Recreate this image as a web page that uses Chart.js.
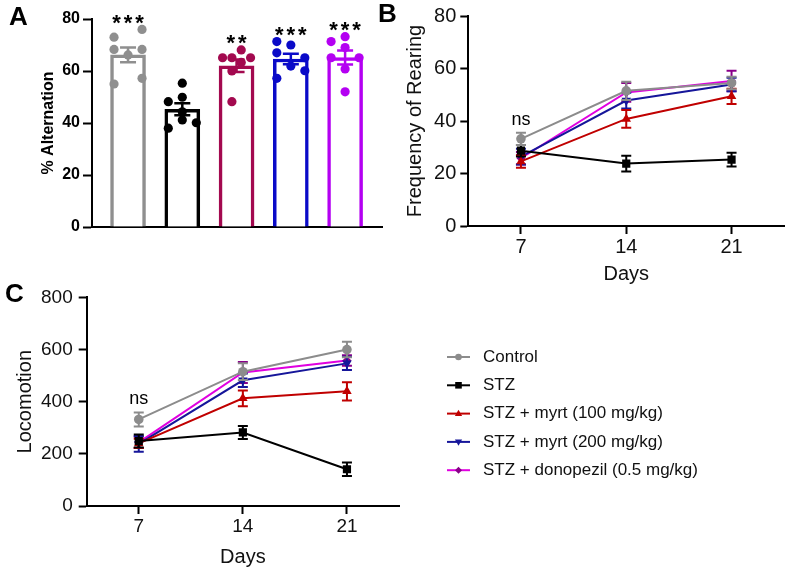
<!DOCTYPE html>
<html>
<head>
<meta charset="utf-8">
<script src="https://cdn.jsdelivr.net/npm/chart.js@4.4.1/dist/chart.umd.min.js"></script>
<style>
  body { margin: 0; background: #fff; width: 790px; height: 572px; position: relative; overflow: hidden; font-family: "Liberation Sans", Arial, sans-serif; }
  canvas { position: absolute; }
  .panel { position: absolute; font-weight: bold; font-size: 26px; line-height: 1; }
</style>
</head>
<body>
<canvas id="chartA" width="390" height="250" style="left:0;top:0"></canvas>
<canvas id="chartB" width="400" height="290" style="left:390px;top:0"></canvas>
<canvas id="chartC" width="790" height="292" style="left:0;top:280px"></canvas>
<div class="panel" style="left:9px;top:3px">A</div>
<div class="panel" style="left:378px;top:0px">B</div>
<div class="panel" style="left:5px;top:280px">C</div>

<script>
// -------------------- DATA --------------------
const groups = ['Control', 'STZ', 'STZ + myrt (100 mg/kg)', 'STZ + myrt (200 mg/kg)', 'STZ + donopezil (0.5 mg/kg)'];

// A - % alternation (bar = mean, dots = animals)
const altMean = [66.2, 45.3, 62.0, 64.6, 65.2];
const altSem = [2.8, 2.3, 2.4, 2.0, 2.7];
const altStars = ['***', '', '**', '***', '***'];
const altControl = [73.0, 76.0, 68.3, 66.2, 68.3, 55.0, 57.2];
const altSTZ = [55.3, 49.9, 48.2, 44.3, 41.2, 40.1, 38.0];
const altMyrt100 = [68.1, 65.1, 65.1, 65.1, 63.3, 60.0, 48.2];
const altMyrt200 = [71.3, 70.0, 67.0, 65.1, 61.9, 60.1, 57.2];
const altDonepezil = [73.2, 71.3, 69.0, 65.1, 65.1, 60.8, 52.0];
// horizontal slot of each dot inside its bar (GraphPad scatter layout)
const slotControl = [-1.5, 1.5, -1.5, 0, 1.5, -1.5, 1.5];
const slotSTZ = [0, 0, -1.5, 0, 0, 1.5, -1.5];
const slotMyrt100 = [0.5, -1.5, -0.5, 1.5, 0.5, -0.5, -0.5];
const slotMyrt200 = [-1.5, 0, -1.5, 1.5, 0, 1.5, -1.5];
const slotDonepezil = [0, -1.5, 0, -1.5, 1.5, 0, 0];
const altTicks = [0, 20, 40, 60, 80];

// B / C - days
const dayTicks = [7, 14, 21];

// B - frequency of rearing
const rearControl = [33.2, 51.5, 54.5];
const rearSTZ = [28.7, 23.8, 25.3];
const rearMyrt100 = [24.6, 40.8, 49.4];
const rearMyrt200 = [26.4, 47.8, 53.9];
const rearDonepezil = [25.8, 50.9, 55.2];
const rearControlSem = [2.3, 3.5, 2.4];
const rearSTZSem = [2.2, 3.0, 2.6];
const rearMyrt100Sem = [2.4, 3.4, 2.9];
const rearMyrt200Sem = [3.0, 3.0, 2.6];
const rearDonepezilSem = [2.4, 3.6, 3.9];

// C - locomotion
const locoControl = [332, 515, 600];
const locoSTZ = [249, 282, 141];
const locoMyrt100 = [240, 413, 440];
const locoMyrt200 = [238, 482, 547];
const locoDonepezil = [244, 512, 558];
const locoControlSem = [27, 32, 30];
const locoSTZSem = [25, 25, 26];
const locoMyrt100Sem = [18, 30, 35];
const locoMyrt200Sem = [30, 26, 25];
const locoDonepezilSem = [22, 40, 20];

// -------------------- STYLE --------------------
const barColors = ['#8f8f8f', '#000000', '#a3094f', '#0a0ac8', '#b400f2'];
const lineColors = ['#8c8c8c', '#000000', '#c00000', '#16169a', '#e000e0'];
const markerColors = ['#8c8c8c', '#000000', '#c00000', '#16169a', '#8a008a'];
const markerStyles = ['circle', 'rect', 'triangle', 'triangleDown', 'diamond'];

Chart.defaults.font.family = "'Liberation Sans', Arial, sans-serif";
Chart.defaults.color = '#000';
Chart.defaults.animation = false;
Chart.defaults.events = [];
Chart.defaults.plugins.legend.display = false;
Chart.defaults.plugins.tooltip.enabled = false;

function drawMarker(ctx, style, x, y, r, color) {
    ctx.save();
    ctx.fillStyle = color;
    ctx.beginPath();
    if (style === 'circle') {
        ctx.arc(x, y, r, 0, Math.PI * 2);
    } else if (style === 'rect') {
        ctx.rect(x - r, y - r, 2 * r, 2 * r);
    } else if (style === 'triangle') {
        ctx.moveTo(x, y - r * 1.2);
        ctx.lineTo(x + r * 1.1, y + r * 0.75);
        ctx.lineTo(x - r * 1.1, y + r * 0.75);
    } else if (style === 'triangleDown') {
        ctx.moveTo(x, y + r * 1.2);
        ctx.lineTo(x + r * 1.1, y - r * 0.75);
        ctx.lineTo(x - r * 1.1, y - r * 0.75);
    } else {
        ctx.moveTo(x, y - r);
        ctx.lineTo(x + r, y);
        ctx.lineTo(x, y + r);
        ctx.lineTo(x - r, y);
    }
    ctx.closePath();
    ctx.fill();
    ctx.restore();
}

function axisBox(size, isY) {
    return isY ? (s) => { s.width = size; } : (s) => { s.height = size; };
}

// -------------------- PANEL A --------------------
const altDots = [altControl, altSTZ, altMyrt100, altMyrt200, altDonepezil];
const altSlots = [slotControl, slotSTZ, slotMyrt100, slotMyrt200, slotDonepezil];
const SLOT = 0.172;

const barExtras = {
    id: 'barExtras',
    afterDatasetsDraw(chart) {
        const { ctx, scales: { x, y } } = chart;
        ctx.save();
        altMean.forEach((m, i) => {
            const px = x.getPixelForValue(i + 1);
            const top = y.getPixelForValue(m + altSem[i]);
            const bot = y.getPixelForValue(m - altSem[i]);
            ctx.strokeStyle = barColors[i];
            ctx.lineWidth = 2.5;
            ctx.beginPath();
            ctx.moveTo(px, top); ctx.lineTo(px, bot);
            ctx.moveTo(px - 8, top); ctx.lineTo(px + 8, top);
            ctx.moveTo(px - 8, bot); ctx.lineTo(px + 8, bot);
            ctx.stroke();

            // significance stars above highest dot
            const stars = altStars[i];
            if (!stars) return;
            const cy = y.getPixelForValue(Math.max(...altDots[i])) - 12;
            ctx.fillStyle = '#000';
            ctx.font = "bold 22px 'Liberation Sans', Arial, sans-serif";
            ctx.textAlign = 'center';
            ctx.textBaseline = 'alphabetic';
            const step = 11.5;
            const x0 = px - (stars.length - 1) * step / 2;
            for (let k = 0; k < stars.length; k++) {
                ctx.fillText('*', x0 + k * step, cy + 12.5);
            }
        });
        ctx.restore();
    }
};

new Chart(document.getElementById('chartA'), {
    type: 'bar',
    data: {
        datasets: [
            {
                data: altMean.map((v, i) => ({ x: i + 1, y: v })),
                backgroundColor: '#fff',
                borderColor: barColors,
                borderWidth: 3.5,
                barThickness: 35,
                order: 2
            },
            ...altDots.map((vals, i) => ({
                type: 'scatter',
                data: vals.map((v, k) => ({ x: i + 1 + altSlots[i][k] * SLOT, y: v })),
                pointRadius: 4.6,
                pointBorderWidth: 0,
                pointBackgroundColor: barColors[i],
                order: 1
            }))
        ]
    },
    options: {
        responsive: false,
        devicePixelRatio: 1,
        layout: { padding: { left: 0, top: 19, right: 8, bottom: 0 } },
        scales: {
            x: {
                type: 'linear', min: 0.336, max: 5.68, offset: false,
                ticks: { display: false },
                grid: { display: true, drawOnChartArea: false, drawTicks: false, offset: false },
                border: { display: true, color: '#000', width: 2 },
                afterFit: axisBox(23, false)
            },
            y: {
                min: 0, max: 80,
                afterBuildTicks: (s) => { s.ticks = altTicks.map(v => ({ value: v })); },
                ticks: { font: { size: 16, weight: 'bold' }, padding: 3, color: '#000' },
                grid: { drawOnChartArea: false, drawTicks: true, tickLength: 9, tickWidth: 2, tickColor: '#000' },
                border: { display: true, color: '#000', width: 2 },
                title: { display: true, text: '% Alternation', font: { size: 16, weight: 'bold' }, padding: 39, color: '#000' },
                afterFit: axisBox(92, true)
            }
        }
    },
    plugins: [barExtras]
});

// -------------------- PANELS B & C --------------------
const errorBars = {
    id: 'errorBars',
    beforeDatasetDraw(chart, args) {
        const ds = chart.data.datasets[args.index];
        if (!ds.sem) return;
        const { ctx, scales: { x, y } } = chart;
        ctx.save();
        ctx.strokeStyle = ds.errorColor;
        ctx.lineWidth = 2;
        ds.data.forEach((p, i) => {
            const px = x.getPixelForValue(p.x);
            const top = y.getPixelForValue(p.y + ds.sem[i]);
            const bot = y.getPixelForValue(p.y - ds.sem[i]);
            ctx.beginPath();
            ctx.moveTo(px, top); ctx.lineTo(px, bot);
            ctx.moveTo(px - 5, top); ctx.lineTo(px + 5, top);
            ctx.moveTo(px - 5, bot); ctx.lineTo(px + 5, bot);
            ctx.stroke();
        });
        ctx.restore();
    }
};

const nsLabel = {
    id: 'nsLabel',
    afterDatasetsDraw(chart) {
        const ds = chart.data.datasets[0];
        const { ctx, scales: { x, y } } = chart;
        const px = x.getPixelForValue(ds.data[0].x);
        const py = y.getPixelForValue(ds.data[0].y + ds.sem[0]) - 13;
        ctx.save();
        ctx.fillStyle = '#000';
        ctx.font = "18px 'Liberation Sans', Arial, sans-serif";
        ctx.textAlign = 'center';
        ctx.textBaseline = 'middle';
        ctx.fillText('ns', px, py);
        ctx.restore();
    }
};

const pointStyleOf = { circle: 'circle', rect: 'rect', triangle: 'triangle', triangleDown: 'triangle', diamond: 'rectRot' };
const pointRadiusOf = { circle: 4.8, rect: 5.8, triangle: 5.5, triangleDown: 5.5, diamond: 4.5 };

function lineChart(id, means, sems, yMax, yStep, yTitle, g, extraPlugins) {
    const yTicks = [];
    for (let v = 0; v <= yMax; v += yStep) yTicks.push(v);
    return new Chart(document.getElementById(id), {
        type: 'line',
        data: {
            datasets: means.map((vals, i) => ({
                label: groups[i],
                data: dayTicks.map((d, k) => ({ x: d, y: vals[k] })),
                sem: sems[i],
                errorColor: markerColors[i],
                borderColor: lineColors[i],
                borderWidth: 2,
                tension: 0,
                pointStyle: pointStyleOf[markerStyles[i]],
                rotation: markerStyles[i] === 'triangleDown' ? 180 : 0,
                pointRadius: pointRadiusOf[markerStyles[i]],
                pointBorderWidth: 0,
                pointBackgroundColor: markerColors[i]
            }))
        },
        options: {
            responsive: false,
            devicePixelRatio: 1,
            layout: { padding: { left: 0, top: g.top, right: g.right, bottom: 0 } },
            scales: {
                x: {
                    type: 'linear', min: 3.5, max: 24.5,
                    afterBuildTicks: (s) => { s.ticks = dayTicks.map(v => ({ value: v })); },
                    ticks: { font: { size: g.tick }, padding: g.xTickPad, color: '#111' },
                    grid: { drawOnChartArea: false, drawTicks: true, tickLength: 8, tickWidth: 2, tickColor: '#000' },
                    border: { display: true, color: '#000', width: 2 },
                    title: { display: true, text: 'Days', font: { size: 20 }, padding: g.xTitlePad, color: '#111' },
                    afterFit: axisBox(g.xHeight, false)
                },
                y: {
                    min: 0, max: yMax,
                    afterBuildTicks: (s) => { s.ticks = yTicks.map(v => ({ value: v })); },
                    ticks: { font: { size: g.tick }, padding: g.yTickPad, color: '#111' },
                    grid: { drawOnChartArea: false, drawTicks: true, tickLength: 8, tickWidth: 2, tickColor: '#000' },
                    border: { display: true, color: '#000', width: 2 },
                    title: { display: true, text: yTitle, font: { size: 20 }, padding: g.yTitlePad, color: '#111' },
                    afterFit: axisBox(g.yWidth, true)
                }
            }
        },
        plugins: [errorBars, nsLabel, ...extraPlugins]
    });
}

lineChart('chartB',
    [rearControl, rearSTZ, rearMyrt100, rearMyrt200, rearDonepezil],
    [rearControlSem, rearSTZSem, rearMyrt100Sem, rearMyrt200Sem, rearDonepezilSem],
    80, 20, 'Frequency of Rearing',
    { top: 13.3, right: 2, yWidth: 78.3, xHeight: 64, tick: 20, xTickPad: 1, yTickPad: 4, xTitlePad: 4, yTitlePad: 13.5 },
    []);

// legend for panel C, drawn at the right of the plot
const sideLegend = {
    id: 'sideLegend',
    afterDraw(chart) {
        const { ctx } = chart;
        ctx.save();
        ctx.font = "17px 'Liberation Sans', Arial, sans-serif";
        ctx.textBaseline = 'middle';
        ctx.textAlign = 'left';
        groups.forEach((name, i) => {
            const yy = 77 + i * 28.3;
            ctx.strokeStyle = lineColors[i];
            ctx.lineWidth = 2;
            ctx.beginPath();
            ctx.moveTo(447, yy); ctx.lineTo(470, yy);
            ctx.stroke();
            drawMarker(ctx, markerStyles[i], 458.5, yy, i === 4 ? 3.5 : 3.3, markerColors[i]);
            ctx.fillStyle = '#111';
            ctx.fillText(name, 483, yy);
        });
        ctx.restore();
    }
};

lineChart('chartC',
    [locoControl, locoSTZ, locoMyrt100, locoMyrt200, locoDonepezil],
    [locoControlSem, locoSTZSem, locoMyrt100Sem, locoMyrt200Sem, locoDonepezilSem],
    800, 200, 'Locomotion',
    { top: 17.3, right: 391, yWidth: 86.7, xHeight: 66, tick: 19, xTickPad: 1.6, yTickPad: 6, xTitlePad: 3, yTitlePad: 13 },
    [sideLegend]);
</script>
</body>
</html>
